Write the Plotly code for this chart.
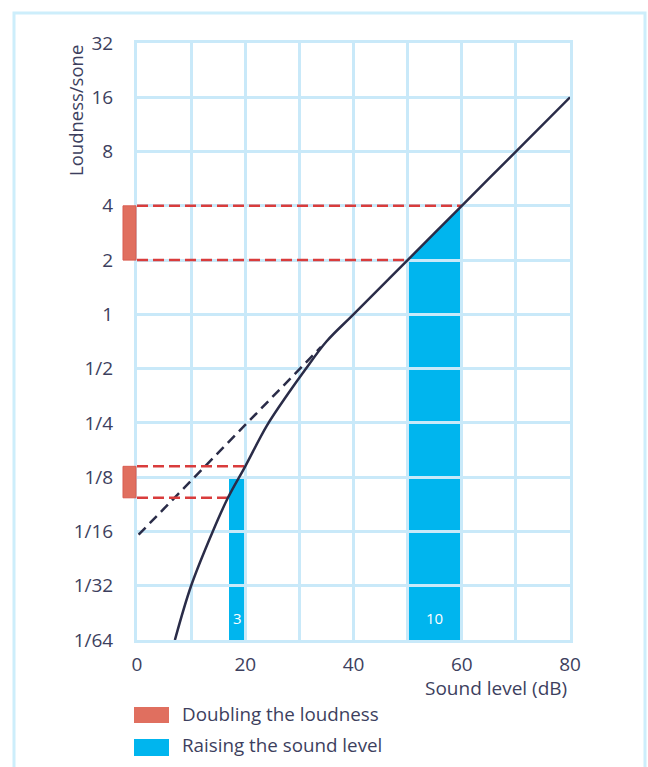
import plotly.graph_objects as go

# ---- data (y values as log2 of loudness in sone) ----
x_ticks = [0, 10, 20, 30, 40, 50, 60, 70, 80]
x_ticktext = ["0", "", "20", "", "40", "", "60", "", "80"]
y_ticks = [-6, -5, -4, -3, -2, -1, 0, 1, 2, 3, 4, 5]
y_ticktext = ["1/64", "1/32", "1/16", "1/8", "1/4", "1/2", "1", "2", "4", "8", "16", "32"]

curve_db = [7.0, 10.0, 14.0, 16.8, 20.0, 24.0, 28.0, 31.0, 35.0, 40, 50, 60, 70, 80]
curve_log2 = [-6.0, -5.0, -4.0, -3.38, -2.80, -2.05, -1.45, -1.03, -0.5, 0, 1, 2, 3, 4]

dashed_db = [0.3, 34.0]
dashed_log2 = [-4.06, -0.6]

# doubling-the-loudness intervals (log2 sone) and where they meet the curve (dB)
double_low = [1.0, -3.38]
double_high = [2.0, -2.80]
double_low_db = [50, 16.8]
double_high_db = [60, 20.0]

# raising-the-sound-level regions
small_bar_db = [17.0, 20.0]
small_bar_top = -3.0
big_bar_db = [50, 60]
big_bar_top = [1.0, 2.0]
bar_labels = ["3", "10"]

TEXT = "#3d3f5e"
GRID = "#c9e9f9"
BLUE = "#00b5ee"
RED = "#d93c3c"
SALMON = "#e06f5f"
NAVY = "#2a2c48"
FONT = "Open Sans"

W, H = 648, 767
# plot area in screen pixels
SX0, SX1, SY0, SY1 = 137, 570, 43, 640
L, R, T, B = SX0, W - SX1, SY0, H - SY1
PW, PH = SX1 - SX0, SY1 - SY0


def px(xs):
    return (xs - SX0) / PW


def py(ys):
    return (SY1 - ys) / PH


fig = go.Figure()

# dashed extrapolation
fig.add_trace(go.Scatter(x=dashed_db, y=dashed_log2, mode="lines",
                         line=dict(color=NAVY, width=2.5, dash="10px,6px"),
                         hoverinfo="skip", showlegend=False))
# red dashed doubling lines
for ylo, yhi, xlo, xhi in zip(double_low, double_high, double_low_db, double_high_db):
    fig.add_trace(go.Scatter(x=[0, xlo], y=[ylo, ylo], mode="lines",
                             line=dict(color=RED, width=2.5, dash="11px,5px"),
                             hoverinfo="skip", showlegend=False))
    fig.add_trace(go.Scatter(x=[0, xhi], y=[yhi, yhi], mode="lines",
                             line=dict(color=RED, width=2.5, dash="11px,5px"),
                             hoverinfo="skip", showlegend=False))
# loudness curve
fig.add_trace(go.Scatter(x=curve_db, y=curve_log2, mode="lines",
                         line=dict(color=NAVY, width=2.5, shape="spline", smoothing=1.0),
                         hoverinfo="skip", showlegend=False))

shapes = []
# blue regions below the grid
shapes.append(dict(type="rect", xref="x", yref="y", layer="below",
                   x0=small_bar_db[0], x1=small_bar_db[1], y0=y_ticks[0], y1=small_bar_top,
                   fillcolor=BLUE, line=dict(width=0)))
path = "M {0},{1} L {0},{2} L {3},{4} L {3},{1} Z".format(
    big_bar_db[0], y_ticks[0], big_bar_top[0], big_bar_db[1], big_bar_top[1])
shapes.append(dict(type="path", xref="x", yref="y", layer="below", path=path,
                   fillcolor=BLUE, line=dict(width=0)))
# salmon doubling markers left of axis
for ylo, yhi in zip(double_low, double_high):
    shapes.append(dict(type="rect", xref="paper", yref="y", layer="above",
                       x0=px(123), x1=px(136), y0=ylo, y1=yhi,
                       fillcolor=SALMON, line=dict(color="#d95c50", width=1)))
# outer frame
shapes.append(dict(type="rect", xref="paper", yref="paper", layer="below",
                   x0=px(14), x1=px(645), y0=py(800), y1=py(13),
                   fillcolor="rgba(0,0,0,0)", line=dict(color="#cdeefb", width=3)))
# legend swatches
shapes.append(dict(type="rect", xref="paper", yref="paper",
                   x0=px(134), x1=px(169), y0=py(723), y1=py(707),
                   fillcolor=SALMON, line=dict(width=0)))
shapes.append(dict(type="rect", xref="paper", yref="paper",
                   x0=px(134), x1=px(169), y0=py(756), y1=py(739),
                   fillcolor=BLUE, line=dict(width=0)))

annotations = [
    dict(text="Loudness/sone", xref="paper", yref="paper", x=px(75), y=py(111),
         textangle=-90, showarrow=False, font=dict(size=18.5, color=TEXT, family=FONT),
         xanchor="center", yanchor="middle"),
    dict(text="Sound level (dB)", xref="paper", yref="paper", x=px(569), y=py(688),
         showarrow=False, font=dict(size=19, color=TEXT, family=FONT),
         xanchor="right", yanchor="middle"),
    dict(text="Doubling the loudness", xref="paper", yref="paper", x=px(180), y=py(714),
         showarrow=False, font=dict(size=18.8, color=TEXT, family=FONT),
         xanchor="left", yanchor="middle"),
    dict(text="Raising the sound level", xref="paper", yref="paper", x=px(180), y=py(745),
         showarrow=False, font=dict(size=18.8, color=TEXT, family=FONT),
         xanchor="left", yanchor="middle"),
]
for lab, xs in zip(bar_labels, [small_bar_db, big_bar_db]):
    annotations.append(dict(text=lab, xref="x", yref="y", x=(xs[0] + xs[1]) / 2, y=-5.6,
                            showarrow=False, font=dict(size=15, color="white", family=FONT)))

fig.update_layout(
    width=W, height=H,
    margin=dict(l=L, r=R, t=T, b=B),
    paper_bgcolor="white", plot_bgcolor="white",
    shapes=shapes, annotations=annotations,
    showlegend=False,
    font=dict(family=FONT, color=TEXT, size=19),
)
fig.update_xaxes(range=[0, 80], tickvals=x_ticks, ticktext=x_ticktext,
                 showgrid=True, gridcolor=GRID, gridwidth=3,
                 showline=True, linecolor=GRID, linewidth=3, mirror=True,
                 zeroline=False, ticks="", ticklabelstandoff=5,
                 tickfont=dict(size=19, color=TEXT, family=FONT), fixedrange=True)
fig.update_yaxes(range=[-6, 5], tickvals=y_ticks, ticktext=y_ticktext,
                 showgrid=True, gridcolor=GRID, gridwidth=3,
                 showline=True, linecolor=GRID, linewidth=3, mirror=True,
                 zeroline=False, ticks="", ticklabelstandoff=17,
                 tickfont=dict(size=19, color=TEXT, family=FONT), fixedrange=True)

fig.write_html("out.html", config={"displayModeBar": False},
               post_script="document.body.style.margin='0';document.body.style.overflow='hidden';")
